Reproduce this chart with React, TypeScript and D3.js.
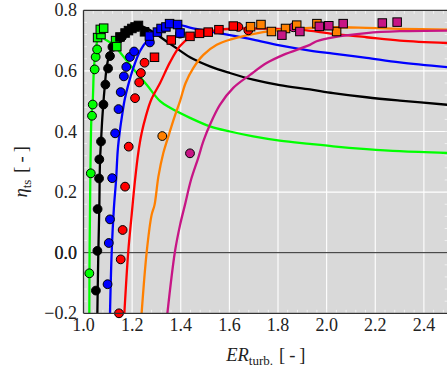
import React from 'react';
import * as d3 from 'd3';

// axis ticks
const xTicks = [1.0, 1.2, 1.4, 1.6, 1.8, 2.0, 2.2, 2.4];
const yTicks = [-0.2, 0.0, 0.2, 0.4, 0.6, 0.8];

// fitted curves: [ER, eta]
const greenCurve = [[1.024, -0.2], [1.025, 0.0], [1.027, 0.157], [1.029, 0.306], [1.033, 0.454], [1.038, 0.5], [1.043, 0.61], [1.05, 0.666], [1.058, 0.702], [1.068, 0.713], [1.088, 0.704], [1.123, 0.686], [1.191, 0.62], [1.26, 0.554], [1.315, 0.5], [1.356, 0.478], [1.438, 0.445], [1.52, 0.417], [1.602, 0.4], [1.698, 0.384], [1.807, 0.37], [1.931, 0.359], [2.027, 0.351], [2.164, 0.342], [2.301, 0.335], [2.5, 0.329]];
const blackCurve = [[1.057, -0.2], [1.061, 0.003], [1.065, 0.148], [1.068, 0.306], [1.072, 0.366], [1.076, 0.427], [1.081, 0.487], [1.088, 0.554], [1.095, 0.61], [1.106, 0.653], [1.123, 0.686], [1.15, 0.72], [1.184, 0.742], [1.225, 0.751], [1.273, 0.735], [1.342, 0.697], [1.397, 0.667], [1.438, 0.645], [1.52, 0.615], [1.602, 0.593], [1.698, 0.571], [1.807, 0.553], [1.931, 0.539], [2.027, 0.527], [2.164, 0.513], [2.301, 0.502], [2.5, 0.488]];
const blueCurve = [[1.109, -0.2], [1.116, 0.003], [1.125, 0.147], [1.134, 0.24], [1.141, 0.339], [1.15, 0.405], [1.16, 0.46], [1.169, 0.504], [1.184, 0.554], [1.205, 0.61], [1.232, 0.665], [1.26, 0.698], [1.301, 0.725], [1.356, 0.746], [1.397, 0.751], [1.438, 0.743], [1.52, 0.73], [1.602, 0.718], [1.698, 0.703], [1.807, 0.684], [1.931, 0.667], [2.027, 0.657], [2.164, 0.643], [2.301, 0.628], [2.5, 0.612]];
const redCurve = [[1.168, -0.2], [1.184, 0.003], [1.198, 0.124], [1.212, 0.24], [1.225, 0.328], [1.239, 0.394], [1.256, 0.449], [1.278, 0.504], [1.315, 0.56], [1.356, 0.629], [1.397, 0.682], [1.438, 0.71], [1.493, 0.725], [1.561, 0.736], [1.643, 0.74], [1.726, 0.74], [1.89, 0.736], [2.027, 0.722], [2.164, 0.711], [2.301, 0.7], [2.5, 0.692]];
const orangeCurve = [[1.239, -0.2], [1.26, 0.003], [1.28, 0.124], [1.292, 0.157], [1.308, 0.251], [1.328, 0.328], [1.353, 0.394], [1.373, 0.445], [1.397, 0.5], [1.42, 0.56], [1.452, 0.61], [1.493, 0.653], [1.548, 0.686], [1.602, 0.703], [1.67, 0.717], [1.738, 0.728], [1.807, 0.735], [1.931, 0.742], [2.027, 0.744], [2.164, 0.742], [2.301, 0.739], [2.5, 0.736]];
const magentaCurve = [[1.345, -0.2], [1.376, 0.003], [1.397, 0.091], [1.417, 0.157], [1.442, 0.24], [1.472, 0.313], [1.493, 0.368], [1.52, 0.422], [1.561, 0.488], [1.616, 0.544], [1.685, 0.587], [1.753, 0.626], [1.822, 0.653], [1.931, 0.686], [1.959, 0.698], [2.027, 0.711], [2.164, 0.725], [2.301, 0.731], [2.5, 0.733]];

// measured points (circles)
const greenCircles = [[1.024, -0.068], [1.03, 0.262], [1.035, 0.452], [1.038, 0.489], [1.046, 0.605], [1.05, 0.646], [1.056, 0.671]];
const blackCircles = [[1.051, -0.125], [1.057, 0.006], [1.058, 0.144], [1.064, 0.245], [1.065, 0.308], [1.072, 0.367], [1.082, 0.489], [1.09, 0.555], [1.101, 0.608], [1.109, 0.649], [1.119, 0.679], [1.138, 0.699], [1.158, 0.712]];
const blueCircles = [[1.099, -0.104], [1.104, 0.032], [1.109, 0.11], [1.118, 0.246], [1.13, 0.394], [1.144, 0.474], [1.153, 0.53], [1.166, 0.582], [1.176, 0.613], [1.191, 0.646], [1.208, 0.664], [1.273, 0.694], [1.397, 0.723]];
const redCircles = [[1.146, -0.2], [1.153, -0.022], [1.161, 0.075], [1.171, 0.218], [1.186, 0.35], [1.212, 0.51], [1.229, 0.562], [1.236, 0.593], [1.251, 0.627], [1.637, 0.745], [1.678, 0.734]];
const orangeCircles = [[1.324, 0.385]];
const magentaCircles = [[1.438, 0.328], [1.863, 0.744]];

// measured points (squares)
const greenSquares = [[1.058, 0.71], [1.072, 0.72], [1.069, 0.737], [1.083, 0.741], [1.132, 0.7], [1.137, 0.68]];
const blackSquares = [[1.15, 0.712], [1.171, 0.725], [1.185, 0.733], [1.199, 0.74], [1.212, 0.745], [1.226, 0.75], [1.251, 0.729]];
const blueSquares = [[1.271, 0.715], [1.304, 0.728], [1.319, 0.74], [1.339, 0.745], [1.354, 0.756], [1.387, 0.753], [1.397, 0.725]];
const redSquares = [[1.292, 0.645], [1.361, 0.702], [1.438, 0.714], [1.477, 0.724], [1.513, 0.728], [1.557, 0.736], [1.616, 0.748]];
const orangeSquares = [[1.687, 0.746], [1.73, 0.753], [1.773, 0.73], [1.831, 0.74], [1.877, 0.751], [1.96, 0.756], [2.041, 0.73]];
const magentaSquares = [[1.816, 0.718], [1.89, 0.73], [1.97, 0.747], [2.009, 0.749], [2.068, 0.756], [2.229, 0.758], [2.29, 0.761]];

const series = [
  { color: '#00ff00', curve: greenCurve, circles: greenCircles, squares: greenSquares },
  { color: '#000000', curve: blackCurve, circles: blackCircles, squares: blackSquares },
  { color: '#0000ff', curve: blueCurve, circles: blueCircles, squares: blueSquares },
  { color: '#ff0000', curve: redCurve, circles: redCircles, squares: redSquares },
  { color: '#ff8000', curve: orangeCurve, circles: orangeCircles, squares: orangeSquares },
  { color: '#c71585', curve: magentaCurve, circles: magentaCircles, squares: magentaSquares },
];

export default function App() {
  const W = 447, H = 369;
  const x = d3.scaleLinear().domain([1.0, 2.5]).range([83.5, 448.2]);
  const y = d3.scaleLinear().domain([-0.2, 0.8]).range([313.3, 10.3]);
  const [x0, x1] = x.range();
  const [y0, y1] = y.range();
  const fmt = d3.format('.1f');
  const font = "'Liberation Serif', 'Times New Roman', serif";

  const line = d3.line<number[]>()
    .x(d => x(d[0]))
    .y(d => y(d[1]))
    .curve(d3.curveCatmullRom.alpha(0.5));

  // minor ticks every 0.04
  const xMinor = d3.range(0, 38).map(i => 1.0 + i * 0.04).filter(v => v <= 2.5);
  const yMinor = d3.range(0, 26).map(i => -0.2 + i * 0.04).filter(v => v <= 0.8001);

  const sq = 8.5;

  return (
    <svg width={W} height={H} style={{ position: 'absolute', left: 0, top: 0 }} fontFamily={font}>
      <defs>
        <clipPath id="plotclip">
          <rect x={x0} y={y1} width={x1 - x0} height={y0 - y1} />
        </clipPath>
      </defs>
      <rect x={x0} y={y1} width={x1 - x0} height={y0 - y1} fill="#d9d9d9" />
      {xTicks.map(t => (
        <line key={'gx' + t} x1={x(t)} x2={x(t)} y1={y1} y2={y0} stroke="#fff" strokeWidth={1.1} />
      ))}
      {yTicks.map(t => (
        <line key={'gy' + t} x1={x0} x2={x1} y1={y(t)} y2={y(t)} stroke="#fff" strokeWidth={1.1} />
      ))}
      {xMinor.map((t, i) => (
        <g key={'mx' + i} stroke="#f4f4f4" strokeWidth={0.9}>
          <line x1={x(t)} x2={x(t)} y1={y0} y2={y0 - 3.5} />
          <line x1={x(t)} x2={x(t)} y1={y1} y2={y1 + 3.5} />
        </g>
      ))}
      {yMinor.map((t, i) => (
        <g key={'my' + i} stroke="#f4f4f4" strokeWidth={0.9}>
          <line x1={x0} x2={x0 + 3.5} y1={y(t)} y2={y(t)} />
          <line x1={x1} x2={x1 - 3.5} y1={y(t)} y2={y(t)} />
        </g>
      ))}
      <line x1={x0} x2={x1} y1={y(0)} y2={y(0)} stroke="#222" strokeWidth={1} />

      <g clipPath="url(#plotclip)" fill="none" strokeWidth={2.3}>
        {series.map(s => (
          <path key={'c' + s.color} d={line(s.curve) || ''} stroke={s.color} />
        ))}
      </g>

      {series.map(s => (
        <g key={'o' + s.color}>
          {s.circles.map((p, i) => (
            <circle key={i} cx={x(p[0])} cy={y(p[1])} r={4.4} fill={s.color} stroke="#000" strokeWidth={1} />
          ))}
        </g>
      ))}
      {series.map(s => (
        <g key={'s' + s.color}>
          {s.squares.map((p, i) => (
            <rect key={i} x={x(p[0]) - sq / 2} y={y(p[1]) - sq / 2} width={sq} height={sq} fill={s.color} stroke="#000" strokeWidth={1} />
          ))}
        </g>
      ))}

      {/* frame */}
      <g stroke="#333" strokeWidth={1.3} fill="none">
        <line x1={x0} x2={x1} y1={y1} y2={y1} />
        <line x1={x0} x2={x1} y1={y0} y2={y0} />
        <line x1={x0} x2={x0} y1={y1} y2={y0} />
        <line x1={x1} x2={x1} y1={y1} y2={y0} />
      </g>

      {/* tick labels */}
      <g fontSize={18} fill="#222">
        {xTicks.map(t => (
          <text key={'lx' + t} x={x(t)} y={331} textAnchor="middle">{fmt(t)}</text>
        ))}
        {yTicks.map(t => (
          <text key={'ly' + t} x={77} y={y(t) + 6} textAnchor="end">{fmt(t)}</text>
        ))}
        <text x={77} y={y(0) + 6} textAnchor="end">{fmt(0)}</text>
      </g>

      {/* axis labels */}
      <text x={(x0 + x1) / 2} y={361} textAnchor="middle" fontSize={18.5} fill="#222">
        <tspan fontStyle="italic">ER</tspan>
        <tspan fontSize={13} dy={4}>turb.</tspan>
        <tspan dy={-4} dx={6}>[</tspan>
        <tspan dx={4}>-</tspan>
        <tspan dx={4}>]</tspan>
      </text>
      <text transform={`translate(27,${(y0 + y1) / 2 + 10}) rotate(-90)`} textAnchor="middle" fontSize={18.5} fill="#222">
        <tspan fontStyle="italic">η</tspan>
        <tspan fontSize={13} dy={4}>ts</tspan>
        <tspan dy={-4} dx={7}>[</tspan>
        <tspan dx={4}>-</tspan>
        <tspan dx={4}>]</tspan>
      </text>
    </svg>
  );
}
